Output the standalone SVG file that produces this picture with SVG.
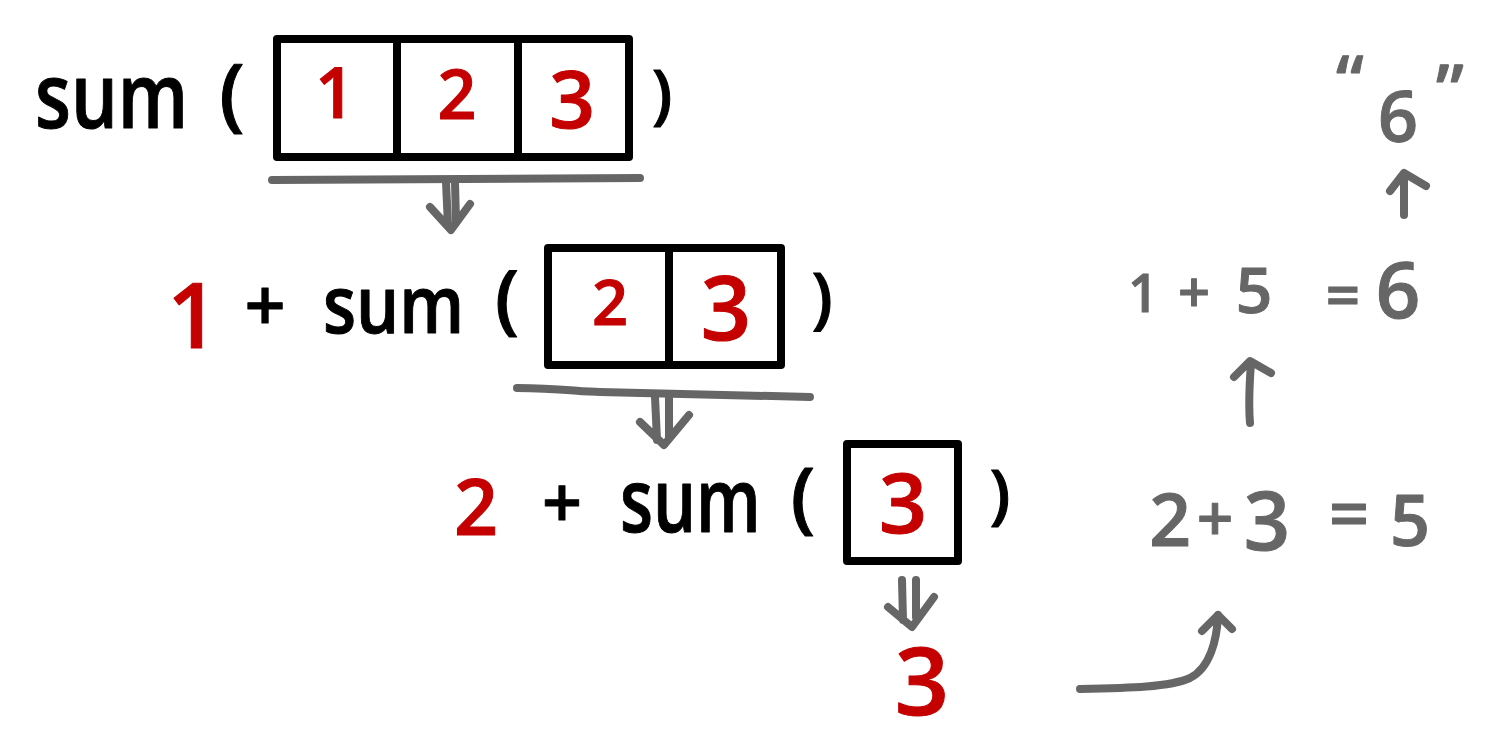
<svg xmlns="http://www.w3.org/2000/svg" width="1500" height="750" viewBox="0 0 1500 750">
<style>
text{font-family:"Open Sans","Noto Sans","Liberation Sans",sans-serif;font-weight:600;stroke-width:1;stroke-linejoin:round;text-anchor:middle}
.k{fill:#000;stroke:#000}
.r{fill:#c40000;stroke:#c40000}
.g{fill:#666;stroke:#666}
.s{text-anchor:start}
.box{fill:none;stroke:#000;stroke-width:8;stroke-linejoin:round;stroke-linecap:round}
.c{fill:none;stroke:#666;stroke-width:8;stroke-linecap:round;stroke-linejoin:round}
</style>
<rect width="1500" height="750" fill="#fff"/>
<g id="call1">
<text class="k s" transform="translate(35,128) scale(0.82,1)" font-size="90">sum</text>
<text class="k" x="232" y="121" font-size="80">(</text>
<rect class="box" x="277" y="39" width="352" height="118"/>
<line class="box" x1="397" y1="40" x2="397" y2="156"/>
<line class="box" x1="518" y1="40" x2="518" y2="156"/>
<text class="r" x="335" y="118" font-size="70">1</text>
<text class="r" x="457" y="119" font-size="68">2</text>
<text class="r" x="572" y="128" font-size="80">3</text>
<text class="k" x="662" y="117" font-size="65">)</text>
</g>
<g id="call2">
<text class="r" x="193" y="348" font-size="90">1</text>
<text class="k" x="265" y="331" font-size="72">+</text>
<text class="k s" transform="translate(323,333) scale(0.85,1)" font-size="80">sum</text>
<text class="k" x="507" y="325" font-size="76">(</text>
<rect class="box" x="548" y="248" width="233" height="117"/>
<line class="box" x1="669" y1="249" x2="669" y2="364"/>
<text class="r" x="610" y="325" font-size="63">2</text>
<text class="r" x="726" y="340" font-size="88">3</text>
<text class="k" x="822" y="321" font-size="67">)</text>
</g>
<g id="call3">
<text class="r" x="476" y="535" font-size="77">2</text>
<text class="k" x="562" y="528" font-size="70">+</text>
<text class="k s" transform="translate(620,532) scale(0.77,1)" font-size="88">sum</text>
<text class="k" x="803" y="524" font-size="77">(</text>
<rect class="box" x="847" y="444" width="111" height="117"/>
<text class="r" x="903" y="533" font-size="84">3</text>
<text class="k" x="1000" y="517" font-size="66">)</text>
</g>
<g id="base">
<text class="r" x="922" y="715" font-size="95">3</text>
</g>
<g id="step1">
<text class="g" x="1170" y="546" font-size="73">2</text>
<text class="g" x="1215" y="541" font-size="64">+</text>
<text class="g" x="1267" y="550" font-size="81">3</text>
<text class="g" x="1349" y="539" font-size="70">=</text>
<text class="g" x="1410" y="546" font-size="70">5</text>
</g>
<g id="step2">
<text class="g" x="1143" y="312" font-size="52">1</text>
<text class="g" x="1194" y="312" font-size="56">+</text>
<text class="g" x="1254" y="313" font-size="64">5</text>
<text class="g" x="1343" y="317" font-size="60">=</text>
<text class="g" x="1398" y="318" font-size="78">6</text>
</g>
<g id="result">
<text class="g" x="1350" y="106" font-size="70">“</text>
<text class="g" x="1398" y="142" font-size="70">6</text>
<text class="g" x="1450" y="115" font-size="70">”</text>
</g>
<g id="connectors">
<path class="c" d="M272,180 L640,178"/>
<path class="c" d="M446,182 L448,226 M455,182 L456,222 M430,207 L451,230 L470,204"/>
<path class="c" d="M517,388 C560,388 580,392 600,392 L810,397"/>
<path class="c" d="M655,397 L657,440 M669,397 L669,437 M640,422 L664,445 L689,415"/>
<path class="c" d="M902,580 L903,620 M916,580 L916,617 M888,607 L912,627 L934,597"/>
<path class="c" d="M1080,689 C1130,688 1170,687 1190,678 C1210,668 1217,640 1218,615 M1202,631 L1218,615 L1232,629"/>
<path class="c" d="M1250,423 C1248,400 1250,380 1251,362 M1234,377 L1250,361 L1271,373"/>
<path class="c" d="M1404,215 L1404,174 M1390,191 L1404,173 L1426,186"/>
</g>
</svg>
